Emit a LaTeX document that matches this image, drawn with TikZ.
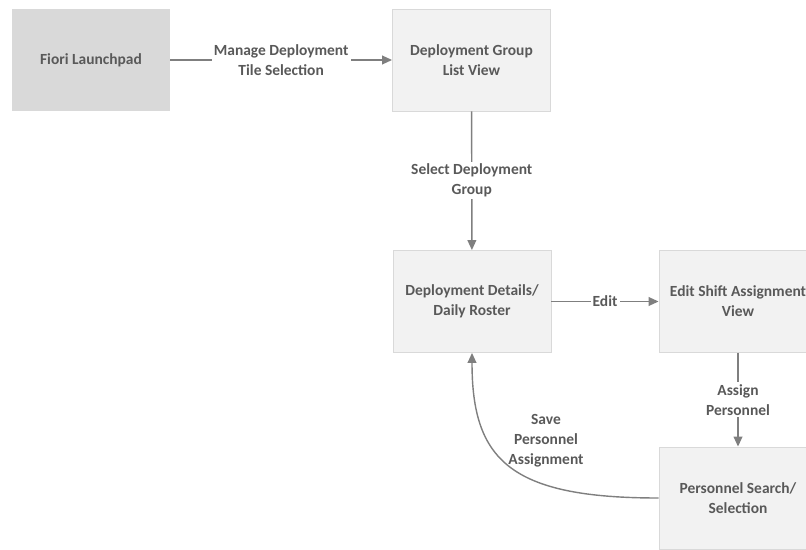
\documentclass[tikz,border=0pt]{standalone}
\usepackage{fontspec}
\setmainfont{Carlito}
\usetikzlibrary{arrows.meta, positioning}
\definecolor{boxfill}{HTML}{F2F2F2}
\definecolor{boxline}{HTML}{D9D9D9}
\definecolor{launchfill}{HTML}{D9D9D9}
\definecolor{flowline}{HTML}{7F7F7F}
\definecolor{labeltext}{HTML}{595959}

\begin{document}
\begin{tikzpicture}[x=0.025cm, y=-0.025cm,
    every node/.style={font=\bfseries\fontsize{11}{14.2}\selectfont, text=labeltext, align=center},
    screen/.style={draw=boxline, fill=boxfill, line width=0.6pt, minimum width=3.95cm, minimum height=2.55cm},
    launch/.style={fill=launchfill, minimum width=3.95cm, minimum height=2.55cm},
    flow/.style={-{Triangle[length=2.5mm, width=2.2mm]}, draw=flowline, line width=1pt},
    tag/.style={fill=white, inner sep=1.5pt}]
    \useasboundingbox (0,0) rectangle (806,550);
    \clip (0,0) rectangle (806,550);
    \node[launch] (fiori) at (91,60) {Fiori Launchpad};
    \node[screen] (grouplist) at (471.5,60) {Deployment Group\\List View};
    \node[screen] (details) at (472,301.5) {Deployment Details/\\Daily Roster};
    \node[screen] (editshift) at (738,301.5) {Edit Shift Assignment\\View};
    \node[screen] (search) at (738,498) {Personnel Search/\\Selection};
    \draw[flow] (fiori) -- node[tag] {Manage Deployment\\Tile Selection} (grouplist);
    \draw[flow] (grouplist) -- node[tag] {Select Deployment\\Group} (details);
    \draw[flow] (details) -- node[tag] {Edit} (editshift);
    \draw[flow] (editshift) -- node[tag] {Assign\\Personnel} (search);
    \draw[flow] (search.west) .. controls (510,498) and (472,460) .. (details.south);
    \node (savelbl) at (546,441) {Save\\Personnel\\Assignment};
\end{tikzpicture}
\end{document}
